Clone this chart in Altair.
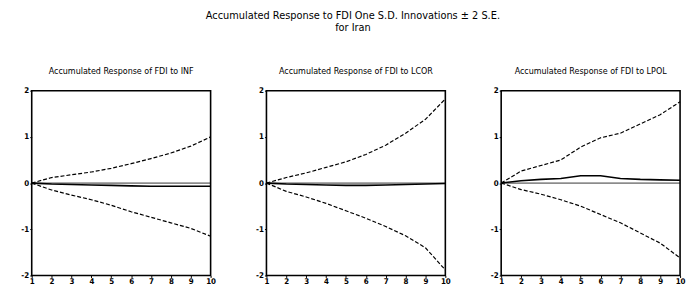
import altair as alt
import pandas as pd

steps = [1, 2, 3, 4, 5, 6, 7, 8, 9, 10]
panel_titles = ["Accumulated Response of FDI to INF",
                "Accumulated Response of FDI to LCOR",
                "Accumulated Response of FDI to LPOL"]

inf_resp = [0, -0.02, -0.03, -0.04, -0.05, -0.06, -0.07, -0.07, -0.07, -0.07]
inf_up = [0, 0.12, 0.18, 0.24, 0.32, 0.42, 0.53, 0.65, 0.80, 1.00]
inf_lo = [0, -0.15, -0.26, -0.36, -0.48, -0.62, -0.74, -0.86, -0.98, -1.15]

lcor_resp = [0, -0.02, -0.03, -0.04, -0.05, -0.05, -0.04, -0.03, -0.02, -0.01]
lcor_up = [0, 0.12, 0.22, 0.34, 0.46, 0.62, 0.82, 1.08, 1.38, 1.82]
lcor_lo = [0, -0.18, -0.30, -0.44, -0.60, -0.76, -0.94, -1.14, -1.40, -1.88]

lpol_resp = [0, 0.05, 0.08, 0.10, 0.16, 0.16, 0.10, 0.08, 0.07, 0.06]
lpol_up = [0, 0.26, 0.38, 0.50, 0.78, 0.98, 1.08, 1.28, 1.48, 1.76]
lpol_lo = [0, -0.14, -0.24, -0.36, -0.50, -0.68, -0.86, -1.08, -1.30, -1.62]

FONT = "DejaVu Sans Condensed, Liberation Sans, sans-serif"


def panel(title, resp, up, lo):
    df = pd.DataFrame({"step": steps, "resp": resp, "up": up, "lo": lo})
    x = alt.X("step:Q", scale=alt.Scale(domain=[1, 10], nice=False),
              axis=alt.Axis(values=steps, title=None, labelExpr="'' + datum.value",
                            labelFontSize=8, labelFont=FONT, labelFontWeight="bold",
                            tickSize=2, tickColor="black", labelColor="black",
                            domain=False, grid=False, labelPadding=0, labelFlush=False))
    yax = alt.Axis(values=[-2, -1, 0, 1, 2], title=None, labelExpr="'' + datum.value",
                   labelFontSize=8, labelFont=FONT, labelFontWeight="bold", tickSize=2,
                   tickColor="black", labelColor="black", domain=False,
                   grid=False, labelPadding=1)
    ysc = alt.Scale(domain=[-2, 2], nice=False)
    base = alt.Chart(df)
    zero = base.mark_rule(color="black", strokeWidth=0.8).encode(
        y=alt.Y("z:Q", scale=ysc, axis=yax)).transform_calculate(z="0").transform_filter("datum.step==1")
    line = base.mark_line(color="black", strokeWidth=1.6).encode(
        x=x, y=alt.Y("resp:Q", scale=ysc, axis=yax))
    upl = base.mark_line(color="black", strokeWidth=1.2, strokeDash=[4, 2]).encode(
        x=x, y=alt.Y("up:Q", scale=ysc, axis=yax))
    lol = base.mark_line(color="black", strokeWidth=1.2, strokeDash=[4, 2]).encode(
        x=x, y=alt.Y("lo:Q", scale=ysc, axis=yax))
    return alt.layer(zero, line, upl, lol).properties(
        width=181, height=187,
        view=alt.ViewBackground(stroke="black", strokeWidth=1.6, strokeOpacity=1),
        title=alt.TitleParams(title, fontSize=9, font=FONT, fontWeight="normal",
                              color="black", offset=11))


p1 = panel(panel_titles[0], inf_resp, inf_up, inf_lo)
p2 = panel(panel_titles[1], lcor_resp, lcor_up, lcor_lo)
p3 = panel(panel_titles[2], lpol_resp, lpol_up, lpol_lo)

chart = alt.hconcat(p1, p2, p3, spacing=38.5).properties(
    title=alt.TitleParams(
        ["Accumulated Response to FDI One S.D. Innovations \u00b1 2 S.E.", "for Iran"],
        fontSize=11, font=FONT, fontWeight="normal", color="black",
        anchor="middle", offset=34, lineHeight=12),
    padding={"left": 12, "top": 0, "right": 0, "bottom": 0},
    background="white",
).configure_view(stroke="black", strokeWidth=1.6)

chart.save("out.html", embed_options={"renderer": "svg", "actions": False})
